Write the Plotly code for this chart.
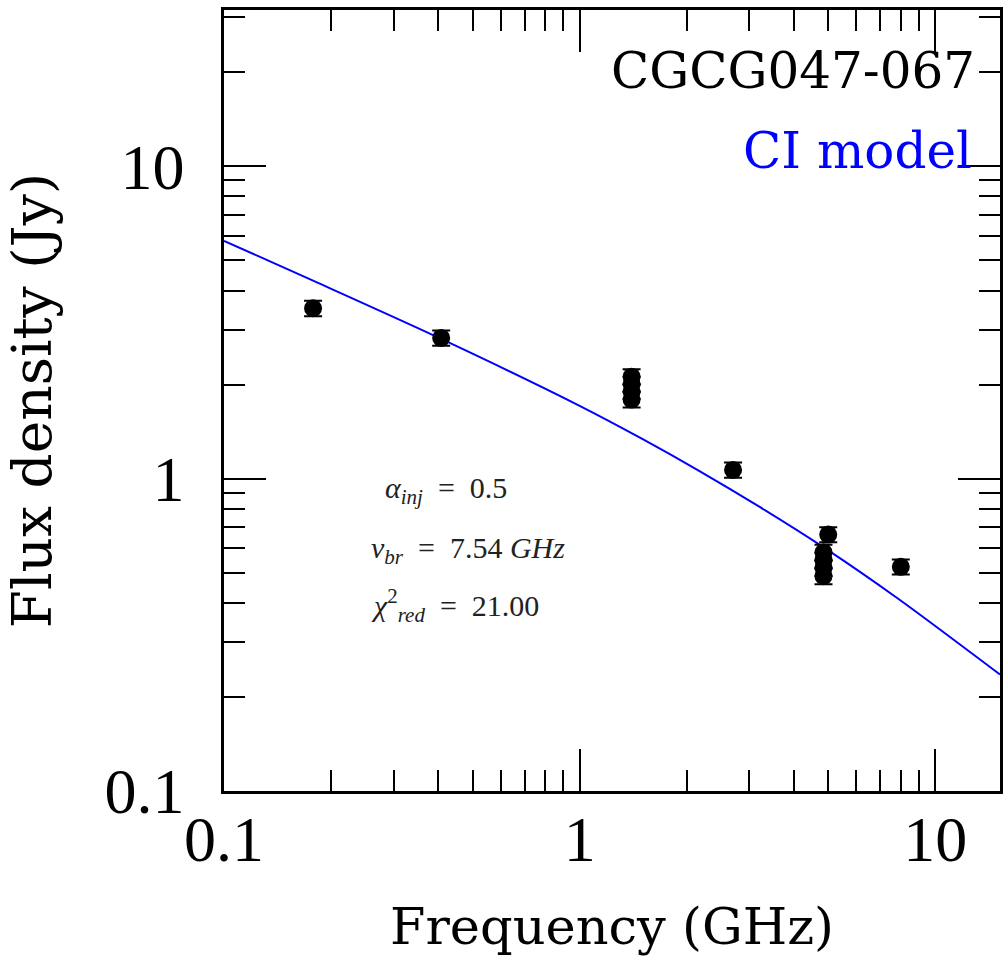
import plotly.graph_objects as go

# Measured flux densities (Jy) at each observing frequency (GHz)
freq_ghz = [0.178, 0.408, 1.4, 1.4, 1.4, 1.4, 2.7, 4.85, 4.85, 4.85, 4.85, 5.0, 8.0]
flux_jy = [3.51, 2.82, 2.12, 2.01, 1.90, 1.79, 1.066, 0.581, 0.548, 0.517, 0.487, 0.662, 0.522]
flux_err = [0.20, 0.16, 0.12, 0.11, 0.10, 0.10, 0.06, 0.033, 0.031, 0.029, 0.028, 0.037, 0.029]

# Continuous-injection (CI) model spectrum
model_freq = [0.1, 0.178, 0.408, 1.0, 1.5, 2.155, 3.2, 4.88, 7.83, 15.2]
model_flux = [5.77, 4.30, 2.80, 1.71, 1.34, 1.063, 0.813, 0.600, 0.414, 0.236]

source_name = "CGCG047-067"
model_label = "CI model"
fit_lines = [
    "<i>α</i><sub><i>inj</i></sub>  =  0.5",
    "<i>ν</i><sub><i>br</i></sub>  =  7.54 <i>GHz</i>",
    "<i>χ</i><sup>2</sup><sub><i>red</i></sub>  =  21.00",
]

W, H = 1003, 956
L, R, T, B = 224, 0, 10, 159
pw, ph = W - L - R, H - T - B


def px(x):
    return (x - L) / pw


def py(y):
    return (H - B - y) / ph


fig = go.Figure()

fig.add_trace(go.Scatter(
    x=model_freq, y=model_flux, mode="lines",
    line=dict(color="#0000ff", width=2, shape="spline", smoothing=0.8),
    hoverinfo="skip", showlegend=False,
))

fig.add_trace(go.Scatter(
    x=freq_ghz, y=flux_jy, mode="markers",
    marker=dict(color="black", size=18, line=dict(width=0)),
    error_y=dict(type="data", array=flux_err, color="black", thickness=2, width=9),
    showlegend=False,
))

tick_font = dict(family="Liberation Serif", size=64, color="black")

axis_common = dict(
    type="log",
    showline=True, linecolor="black", linewidth=2.5, mirror="ticks",
    ticks="inside", ticklen=42, tickwidth=2, tickcolor="black",
    dtick=1,
    minor=dict(ticks="inside", ticklen=21, tickwidth=1.5, tickcolor="black",
               dtick="D1", showgrid=False),
    showgrid=False, zeroline=False,
    tickfont=tick_font,
)

fig.update_xaxes(
    range=[-1, 1.182],
    title=dict(text="Frequency (GHz)", font=dict(family="DejaVu Serif", size=51, color="black"),
               standoff=46),
    ticklabelstandoff=-10,
    **axis_common,
)
fig.update_yaxes(
    range=[-1, 1.5],
    title=dict(text="Flux density (Jy)", font=dict(family="DejaVu Serif", size=55, color="black"),
               standoff=36),
    ticklabelstandoff=24,
    **axis_common,
)

annotations = [
    dict(text=source_name, x=px(980), y=py(71), xanchor="right", yanchor="middle",
         font=dict(family="DejaVu Serif", size=50, color="black")),
    dict(text=model_label, x=px(977), y=py(152), xanchor="right", yanchor="middle",
         font=dict(family="DejaVu Serif", size=50, color="#0000ff")),
]
fit_pos = [(384, 494), (370, 554), (370, 610)]
for txt, (xx, yy) in zip(fit_lines, fit_pos):
    annotations.append(dict(text=txt, x=px(xx), y=py(yy), xanchor="left", yanchor="middle",
                            font=dict(family="Liberation Serif", size=30, color="#222222")))

for a in annotations:
    a.update(xref="paper", yref="paper", showarrow=False)

fig.update_layout(
    width=W, height=H,
    margin=dict(l=L, r=R, t=T, b=B, pad=0),
    paper_bgcolor="white", plot_bgcolor="white",
    annotations=annotations,
)

fig.write_html("out.html")
